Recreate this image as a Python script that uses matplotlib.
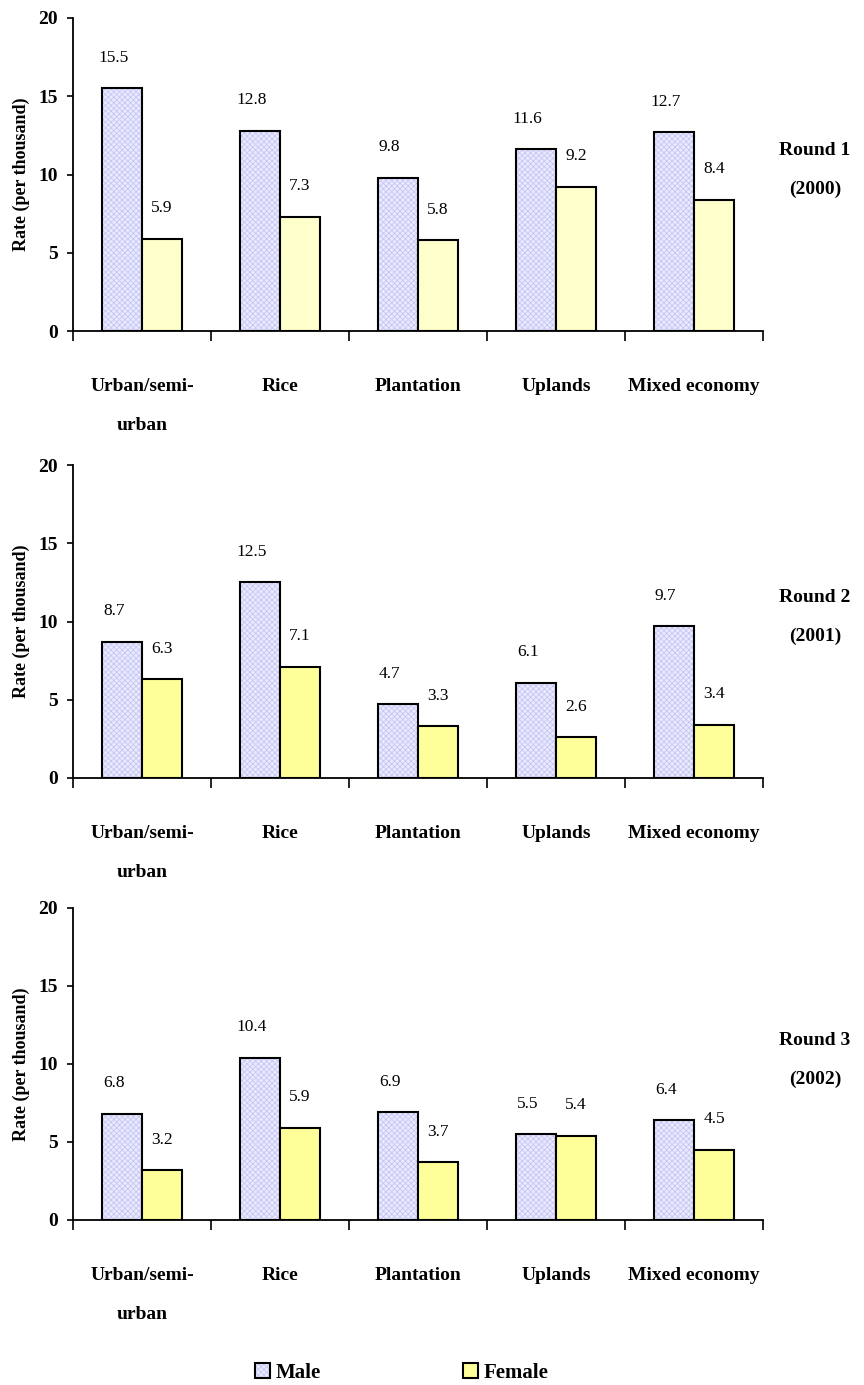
import matplotlib
matplotlib.use("Agg")
import matplotlib.pyplot as plt
from matplotlib.patches import Patch
from matplotlib.legend_handler import HandlerTuple
import numpy as np

# Data
categories = ["Urban/semi-\nurban", "Rice", "Plantation", "Uplands", "Mixed economy"]
rounds = ["Round 1\n(2000)", "Round 2\n(2001)", "Round 3\n(2002)"]
male_r1 = [15.5, 12.8, 9.8, 11.6, 12.7]
female_r1 = [5.9, 7.3, 5.8, 9.2, 8.4]
male_r2 = [8.7, 12.5, 4.7, 6.1, 9.7]
female_r2 = [6.3, 7.1, 3.3, 2.6, 3.4]
male_r3 = [6.8, 10.4, 6.9, 5.5, 6.4]
female_r3 = [3.2, 5.9, 3.7, 5.4, 4.5]
yticks = [0, 5, 10, 15, 20]

male_sets = [male_r1, male_r2, male_r3]
female_sets = [female_r1, female_r2, female_r3]
female_colors = ["#FFFFCC", "#FFFF99", "#FFFF99"]
male_face = "#EAEAFF"
male_hatch = "#C6C6F4"

plt.rcParams["font.family"] = ["Liberation Serif", "DejaVu Serif"]
plt.rcParams["hatch.linewidth"] = 0.6

W, H = 864, 1385
fig = plt.figure(figsize=(W / 100, H / 100), dpi=100)

# axes placement in pixels: (top, bottom)
axes_px = [(18, 331), (465, 778), (908, 1220)]
left_px, right_px = 73, 763

x = np.arange(len(categories))
bw = 0.29

for i, (top, bot) in enumerate(axes_px):
    ax = fig.add_axes([left_px / W, 1 - bot / H, (right_px - left_px) / W, (bot - top) / H])
    males = male_sets[i]
    females = female_sets[i]

    # male bars: hatched fill then black outline
    ax.bar(x - bw / 2, males, bw, color=male_face, edgecolor=male_hatch,
           hatch="xxxxxx", linewidth=0, zorder=2)
    ax.bar(x - bw / 2, males, bw, fill=False, edgecolor="black",
           linewidth=1.5, zorder=3)
    ax.bar(x + bw / 2, females, bw, color=female_colors[i], edgecolor="black",
           linewidth=1.5, zorder=3)

    for xi, v in zip(x, males):
        ax.annotate(f"{v:.1f}", (xi - bw / 2, v), xytext=(-6, 22),
                    textcoords="offset points", ha="center", va="center",
                    fontsize=12.5)
    for xi, v in zip(x, females):
        ax.annotate(f"{v:.1f}", (xi + bw / 2, v), xytext=(0, 22),
                    textcoords="offset points", ha="center", va="center",
                    fontsize=12.5)

    ax.set_xlim(-0.5, len(categories) - 0.5)
    ax.set_ylim(0, 20)
    ax.set_yticks(yticks)
    ax.set_yticklabels([str(t) for t in yticks], fontweight="bold", fontsize=14)
    ax.tick_params(axis="y", direction="out", length=4, width=1.2, pad=7)

    ax.set_xticks(x)
    ax.set_xticklabels(categories, fontweight="bold", fontsize=14,
                       linespacing=2.67)
    ax.set_xticks(np.arange(len(categories) + 1) - 0.5, minor=True)
    ax.tick_params(axis="x", which="major", length=0, pad=34)
    ax.tick_params(axis="x", which="minor", direction="out", length=7, width=1.2)

    ax.set_ylabel("Rate (per thousand)", fontweight="bold", fontsize=13)
    ax.yaxis.set_label_coords(-0.062, 0.5)

    for s in ["top", "right"]:
        ax.spines[s].set_visible(False)
    for s in ["left", "bottom"]:
        ax.spines[s].set_linewidth(1.3)

    fig.text(815 / W, 1 - (top + 152) / H, rounds[i], ha="center", va="center",
             fontweight="bold", fontsize=14, linespacing=2.6)

male_handle = (
    Patch(facecolor=male_face, edgecolor=male_hatch, hatch="xxxxxx", linewidth=0),
    Patch(fill=False, edgecolor="black", linewidth=1.5),
)
female_handle = Patch(facecolor="#FFFF99", edgecolor="black", linewidth=1.5)
fig.legend([male_handle, female_handle], ["Male", "Female"], loc="center",
           bbox_to_anchor=(402 / W, 1 - 1373 / H), ncol=2, frameon=False,
           prop={"weight": "bold", "size": 15}, handlelength=0.7,
           handleheight=0.7, handletextpad=0.3, columnspacing=6.8,
           borderpad=0, borderaxespad=0,
           handler_map={tuple: HandlerTuple(ndivide=1, pad=0)})

fig.savefig("out.png", dpi=100)
